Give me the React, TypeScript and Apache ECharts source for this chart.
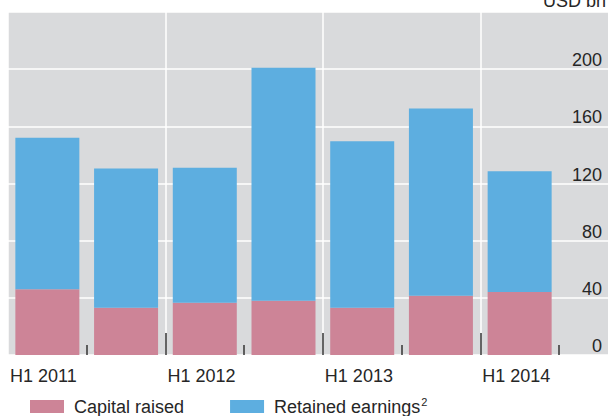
import React, { useEffect, useRef } from "react";
import * as echarts from "echarts";

const periods = ["H1 2011", "H2 2011", "H1 2012", "H2 2012", "H1 2013", "H2 2013", "H1 2014"];
const boundaries = [...periods, "H2 2014"];
const capitalRaised = [46, 33, 36.5, 38, 33, 41.5, 44];
const retainedEarnings = [106, 97.5, 94.5, 163, 116.5, 131, 84.5];
const yTicks = [0, 40, 80, 120, 160, 200, 240];

const FONT = "Liberation Sans";
const TEXT = "#262626";
const PINK = "#cd8497";
const BLUE = "#5daee0";
const GREY = "#d9dadc";

export default function App() {
  const ref = useRef<HTMLDivElement>(null);
  useEffect(() => {
    document.body.style.margin = "0";
    if (!ref.current) return;
    const chart = echarts.init(ref.current, null, { renderer: "svg" });
    const yMax = yTicks[yTicks.length - 1];
    const step = yTicks[1] - yTicks[0];
    chart.setOption({
      animation: false,
      textStyle: { fontFamily: FONT },
      graphic: [
        {
          type: "text",
          x: 543,
          y: -8,
          style: { text: "USD bn", font: `18px "${FONT}"`, fill: TEXT, verticalAlign: "top" },
        },
      ],
      grid: [
        { left: 8, right: 0, top: 12, bottom: 61, show: true, backgroundColor: GREY, borderWidth: 0 },
        { left: 8, right: 49, top: 12, bottom: 61 },
      ],
      legend: {
        left: 30,
        top: 396,
        padding: 0,
        itemWidth: 34,
        itemHeight: 13,
        itemGap: 46,
        icon: "rect",
        data: ["Capital raised", "Retained earnings"],
        formatter: (name: string) =>
          name === "Retained earnings" ? "{t|Retained earnings}{s|2}" : "{t|" + name + "}",
        textStyle: {
          color: TEXT,
          fontFamily: FONT,
          fontSize: 18,
          padding: [0, 0, 0, 5],
          rich: {
            t: { fontSize: 18, fontFamily: FONT, color: TEXT },
            s: { fontSize: 11, fontFamily: FONT, color: TEXT, verticalAlign: "top", padding: [0, 0, 10, 1] },
          },
        },
      },
      xAxis: [
        { type: "value", gridIndex: 0, show: false, min: 0, max: 1 },
        {
          type: "category",
          gridIndex: 1,
          data: periods,
          axisLine: { show: false },
          axisTick: { show: false },
          axisLabel: { show: false },
          splitLine: { show: false },
        },
        {
          type: "category",
          gridIndex: 1,
          data: boundaries,
          boundaryGap: false,
          position: "bottom",
          axisLine: { show: false },
          axisTick: {
            show: true,
            inside: true,
            length: 22,
            interval: (i: number) => i % 2 === 0 && i > 0,
            lineStyle: { color: "#333", width: 1.5 },
          },
          axisLabel: {
            show: true,
            interval: (i: number) => i % 2 === 0 && i < boundaries.length - 1,
            align: "left",
            margin: 12,
            padding: [0, 0, 0, 2],
            color: TEXT,
            fontFamily: FONT,
            fontSize: 18,
          },
          splitLine: {
            show: true,
            interval: (i: number) => i % 2 === 0,
            lineStyle: { color: "#ffffff", width: 1.5 },
          },
        },
        {
          type: "category",
          gridIndex: 1,
          data: boundaries,
          boundaryGap: false,
          position: "bottom",
          axisLine: { show: false },
          axisTick: {
            show: true,
            inside: true,
            length: 10,
            interval: (i: number) => i % 2 === 1,
            lineStyle: { color: "#333", width: 1.5 },
          },
          axisLabel: { show: false },
          splitLine: { show: false },
        },
      ],
      yAxis: [
        {
          type: "value",
          gridIndex: 0,
          position: "right",
          min: 0,
          max: yMax,
          interval: step,
          axisLine: { show: false },
          axisTick: { show: false },
          axisLabel: {
            inside: true,
            margin: 6,
            showMaxLabel: false,
            verticalAlign: "bottom",
            color: TEXT,
            fontFamily: FONT,
            fontSize: 18,
          },
          splitLine: { show: true, lineStyle: { color: "#ffffff", width: 1.5 } },
        },
        {
          type: "value",
          gridIndex: 1,
          min: 0,
          max: yMax,
          interval: step,
          show: false,
          splitLine: { show: false },
        },
      ],
      series: [
        {
          name: "Capital raised",
          type: "bar",
          stack: "total",
          xAxisIndex: 1,
          yAxisIndex: 1,
          barWidth: 64,
          itemStyle: { color: PINK },
          data: capitalRaised,
        },
        {
          name: "Retained earnings",
          type: "bar",
          stack: "total",
          xAxisIndex: 1,
          yAxisIndex: 1,
          barWidth: 64,
          itemStyle: { color: BLUE },
          data: retainedEarnings,
        },
      ],
    });
    return () => chart.dispose();
  }, []);
  return <div ref={ref} style={{ width: 608, height: 416 }} />;
}
